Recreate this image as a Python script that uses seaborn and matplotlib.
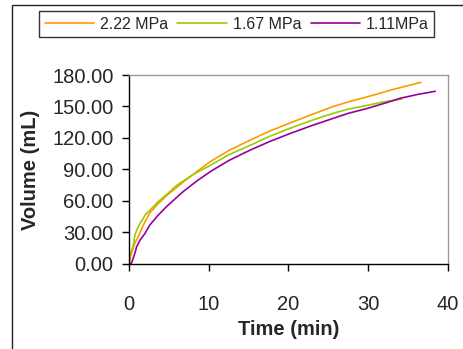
import pandas as pd
import matplotlib.pyplot as plt
from matplotlib.patches import Rectangle
import seaborn as sns

# Data: time (min) vs filtrate volume (mL)
time_222 = [0, 0.3, 0.75, 0.96, 1.8, 2.0, 2.6, 3.6, 4.7, 6.8, 8.5, 10.2, 12.5, 15.2, 17.6, 20.1, 22.8, 25.6, 28.0, 29.8, 33.0, 36.6]
vol_222 = [0, 10, 20, 23, 37, 40, 48.5, 57, 65, 78, 88, 97.5, 108, 118, 126.5, 134, 142, 150, 155.5, 159, 166, 173]

time_167 = [0, 0.1, 0.33, 0.55, 0.75, 0.96, 1.4, 1.8, 2.0, 2.6, 3.6, 4.7, 6.0, 8.0, 10.2, 12.5, 15.2, 17.6, 20.1, 22.8, 25.6, 27.5, 29.8, 32.0, 34.2]
vol_167 = [0, 8, 13, 18, 27.6, 32, 39, 43.5, 46.7, 51, 59, 66, 75, 85, 94, 104, 113, 121.5, 129, 136.5, 143.5, 147.5, 151, 154.5, 157]

time_111 = [0, 0.33, 0.75, 0.96, 1.4, 1.8, 2.0, 2.6, 3.6, 4.7, 6.8, 8.5, 10.2, 12.5, 15.2, 17.6, 20.1, 22.8, 25.6, 27.5, 29.8, 32.0, 34.0, 36.2, 38.4]
vol_111 = [0, 1, 10.4, 16.5, 23, 27, 29, 37, 46, 54.6, 69, 79, 88, 98.5, 108.5, 116.5, 124, 131.5, 138.7, 143.5, 148, 153, 157.8, 161.5, 164.5]

labels = ["2.22 MPa", "1.67 MPa", "1.11MPa"]
colors = ["#FF9900", "#99CC00", "#990099"]

df = pd.concat([
    pd.DataFrame({"t": time_222, "v": vol_222, "p": labels[0]}),
    pd.DataFrame({"t": time_167, "v": vol_167, "p": labels[1]}),
    pd.DataFrame({"t": time_111, "v": vol_111, "p": labels[2]}),
])

sns.set_style("ticks")
plt.rcParams["font.family"] = ["Liberation Sans", "DejaVu Sans"]

fig = plt.figure(figsize=(4.63, 3.49), dpi=100)
ax = fig.add_axes([0.2786, 0.2436, 0.689, 0.5415])

sns.lineplot(data=df, x="t", y="v", hue="p", palette=colors, hue_order=labels,
             estimator=None, sort=False, linewidth=1.2, legend=False, ax=ax)

ax.set_xlim(0, 40)
ax.set_ylim(0, 180)
ax.set_xticks([0, 10, 20, 30, 40])
ax.set_yticks([0, 30, 60, 90, 120, 150, 180])
ax.set_yticklabels([f"{v:.2f}" for v in [0, 30, 60, 90, 120, 150, 180]])
ax.tick_params(axis="y", labelsize=14.5, length=5, width=1, pad=6, color="black")
ax.tick_params(axis="x", labelsize=14.5, length=5, width=1, pad=17, color="black")

ax.set_xlabel("Time (min)", fontsize=14.5, fontweight="bold", labelpad=5)
ax.set_ylabel("Volume (mL)", fontsize=14.5, fontweight="bold", labelpad=9)

for side in ["top", "right"]:
    ax.spines[side].set_visible(True)
    ax.spines[side].set_color("#999999")
    ax.spines[side].set_linewidth(1)
for side in ["left", "bottom"]:
    ax.spines[side].set_color("black")
    ax.spines[side].set_linewidth(1)

# Legend along the top
handles = [plt.Line2D([], [], color=c, lw=1.2) for c in colors]
leg = fig.legend(handles, labels, loc="center", bbox_to_anchor=(0.511, 0.931), ncol=3,
                 fontsize=11.5, frameon=True, fancybox=False, edgecolor="black",
                 handlelength=3.1, handletextpad=0.35, columnspacing=0.6,
                 borderpad=0.35, borderaxespad=0)
leg.get_frame().set_linewidth(1)

# Outer chart border
fig.patches.append(Rectangle((12 / 463, -0.1), 1.1, 1.1 - 4.5 / 349, transform=fig.transFigure,
                             fill=False, edgecolor="#222222", linewidth=1))

fig.savefig("out.png", dpi=100)
